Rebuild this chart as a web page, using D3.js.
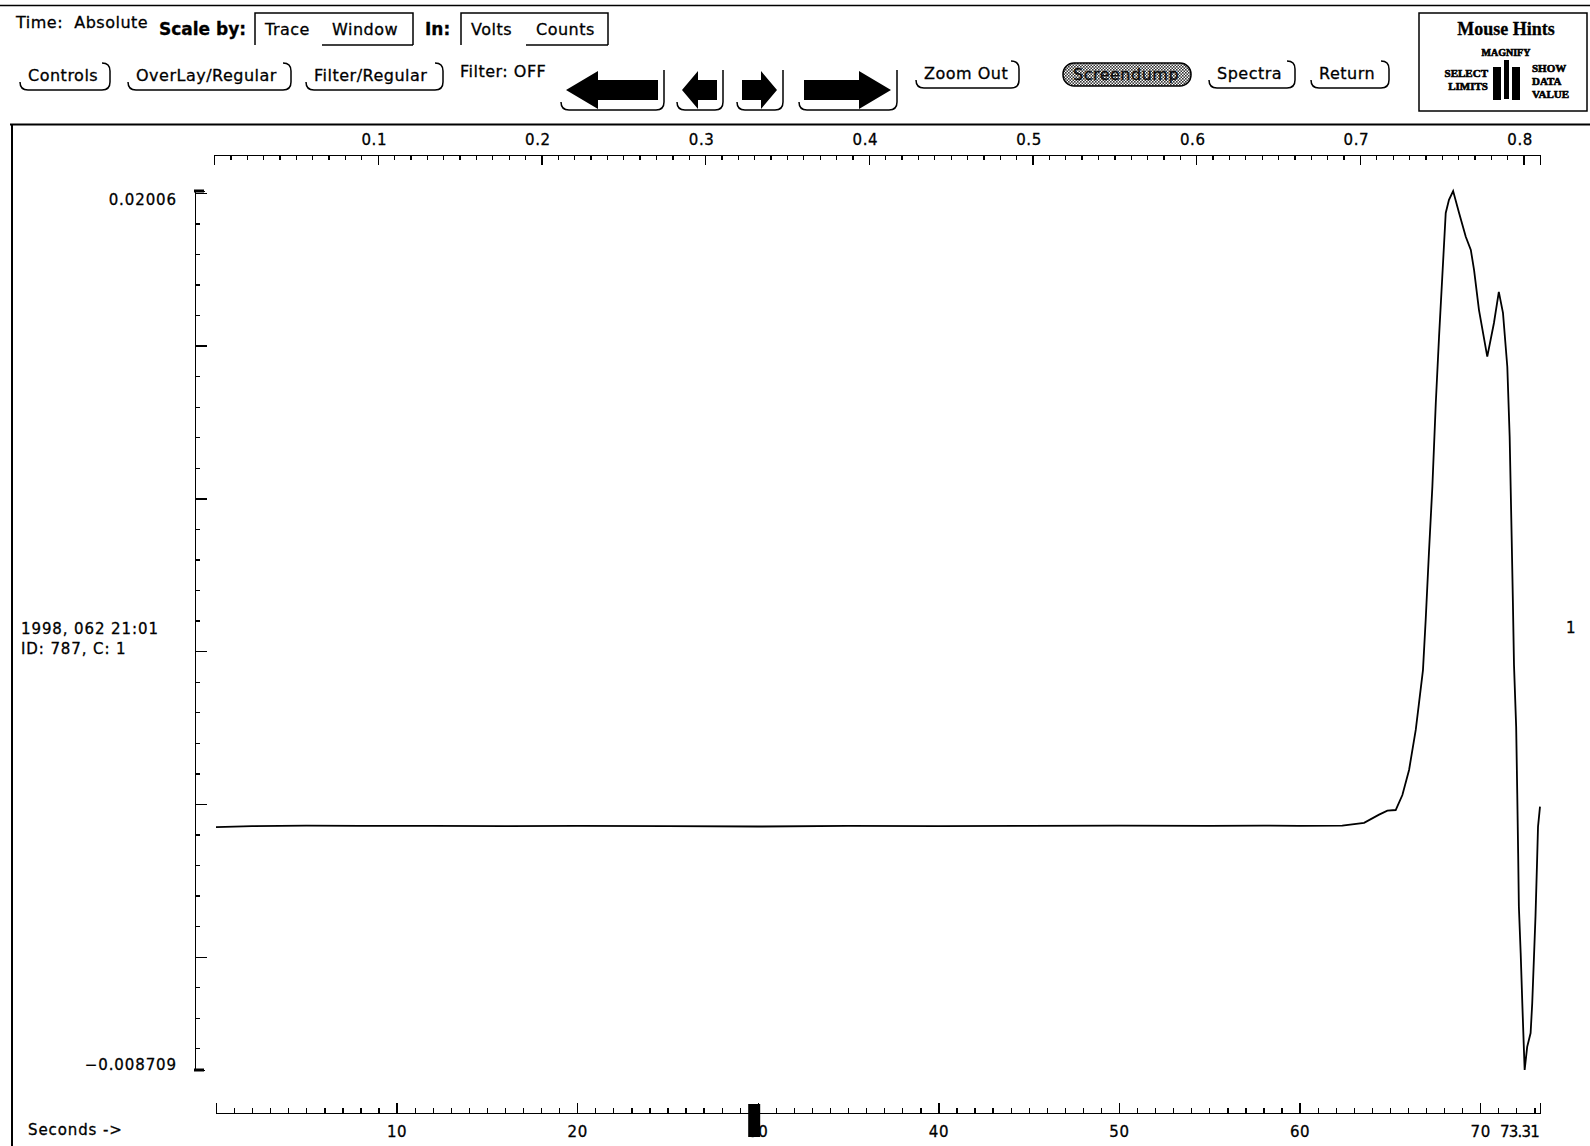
<!DOCTYPE html>
<html>
<head>
<meta charset="utf-8">
<script src="https://cdn.jsdelivr.net/npm/d3@7"></script>
<style>
  html, body { margin: 0; padding: 0; background: #fff; }
  svg { display: block; }
  text { font-family: "DejaVu Sans", sans-serif; fill: #000; stroke: #000; stroke-width: 0.3px; }
  .ui text { font-size: 16px; letter-spacing: 0.5px; }
  .axis text { font-size: 15px; letter-spacing: 0.6px; }
  .lbl { font-size: 15px; letter-spacing: 0.9px; }
  .axis path, .axis line { stroke: #000; stroke-width: 1.3; shape-rendering: crispEdges; }
  .serif { font-family: "Liberation Serif", serif; font-weight: bold; letter-spacing: 0; }
</style>
</head>
<body>
<svg id="chart" width="1590" height="1146"></svg>
<script>
// Seismogram trace, channel 1 (volts vs seconds since window start)
const timeSec = [0, 2, 5, 8, 12, 16, 20, 25, 30, 35, 40, 45, 50, 55, 58, 60, 62.36, 63.57, 64.40, 64.86, 65.32,
  65.69, 66.06, 66.43, 66.61, 66.83, 66.98, 67.16, 67.35, 67.54, 67.72, 67.90, 68.09, 68.27, 68.50,
  68.83, 69.20, 69.48, 69.66, 69.93, 70.39, 70.76, 71.03, 71.26, 71.50, 71.63, 71.74, 71.81, 71.87,
  71.99, 72.05, 72.10, 72.14, 72.24, 72.33, 72.42, 72.46, 72.60, 72.79, 72.88, 72.97, 73.06, 73.15,
  73.20, 73.31];
const volts = [-0.00076, -0.00073, -0.00071, -0.00072, -0.00072, -0.00073, -0.00072, -0.00073, -0.00074, -0.00072,
  -0.00073, -0.00072, -0.00071, -0.00072, -0.00071, -0.00072, -0.00071, -0.00062, -0.00035, -0.00022, -0.00020,
  0.00029, 0.00111, 0.00242, 0.00330, 0.00438, 0.00602, 0.00821, 0.01038, 0.01312, 0.01529, 0.01726, 0.01934, 0.01977, 0.02006,
  0.01934, 0.01856, 0.01813, 0.01747, 0.01617, 0.01464, 0.01574, 0.01676, 0.01607, 0.01431, 0.01202, 0.00875, 0.00658, 0.00455,
  0.00253, 0.00036, -0.00161, -0.00336, -0.00488, -0.00652, -0.00805, -0.008709, -0.00795, -0.00750, -0.00652, -0.00511, -0.00369, -0.00184,
  -0.00075, -0.00009];

const traceMin = -0.008709, traceMax = 0.02006;
const ampLabels = ["0.02006", "\u22120.008709"];
const timeEnd = 73.31;
const secondsLabels = [10, 20, 30, 40, 50, 60, 70];
const fractionLabels = [0.1, 0.2, 0.3, 0.4, 0.5, 0.6, 0.7, 0.8];
const fractionEnd = 0.81;
const cursorTime = 29.8;
const stamp = ["1998, 062 21:01", "ID: 787, C: 1"];
const channelLabel = "1";

const svg = d3.select("#chart");

// ---------- scales ----------
const x = d3.scaleLinear().domain([0, timeEnd]).range([216, 1540]);
const xTop = d3.scaleLinear().domain([0, fractionEnd]).range([214, 1540]);
const y = d3.scaleLinear().domain([traceMin, traceMax]).range([1070, 191]);

// ---------- frame lines ----------
svg.append("line").attr("x1", 0).attr("x2", 1590).attr("y1", 5.5).attr("y2", 5.5)
  .attr("stroke", "#000").attr("stroke-width", 1.5);
svg.append("line").attr("x1", 10).attr("x2", 1590).attr("y1", 124.5).attr("y2", 124.5)
  .attr("stroke", "#000").attr("stroke-width", 2);
svg.append("line").attr("x1", 12).attr("x2", 12).attr("y1", 124).attr("y2", 1146)
  .attr("stroke", "#000").attr("stroke-width", 2);

// ---------- control bar ----------
const ui = svg.append("g").attr("class", "ui");
ui.append("text").attr("x", 16).attr("y", 28).text("Time:\u00a0\u00a0Absolute");
ui.append("text").attr("x", 159).attr("y", 35).text("Scale by:").style("font-weight", "bold").style("font-size", "17px").style("letter-spacing", "0");
ui.append("text").attr("x", 425).attr("y", 35).text("In:").style("font-weight", "bold").style("font-size", "17px").style("letter-spacing", "0");

function choice(x0, x1, xm, labels, lx) {
  const g = ui.append("g").attr("fill", "none").attr("stroke", "#000").attr("stroke-width", 1.5);
  g.append("path").attr("d", `M${x0},45 V13 H${x1} V45`);
  g.append("path").attr("d", `M${xm},45 H${x1}`);
  labels.forEach((t, i) => ui.append("text").attr("x", lx[i]).attr("y", 35).text(t));
}
choice(255, 413, 322, ["Trace", "Window"], [265, 332]);
choice(461, 608, 526, ["Volts", "Counts"], [471, 536]);

// OPEN LOOK style menu buttons
function button(x0, x1, label, top, bottom) {
  const r = 8;
  ui.append("path")
    .attr("d", `M${x0},${bottom - r} Q${x0},${bottom} ${x0 + r},${bottom} H${x1 - r} Q${x1},${bottom} ${x1},${bottom - r} V${top + r} Q${x1},${top} ${x1 - r},${top}`)
    .attr("fill", "none").attr("stroke", "#000").attr("stroke-width", 1.5);
  ui.append("text").attr("x", x0 + 8).attr("y", (top + bottom) / 2 + 4).text(label);
}
button(20, 110, "Controls", 63, 90);
button(128, 291, "OverLay/Regular", 63, 90);
button(306, 443, "Filter/Regular", 63, 90);
button(916, 1019, "Zoom Out", 61, 88);
button(1209, 1295, "Spectra", 61, 88);
button(1311, 1389, "Return", 61, 88);
ui.append("text").attr("x", 460).attr("y", 77).text("Filter: OFF");

// stippled (busy) button
const defs = svg.append("defs");
const pat = defs.append("pattern").attr("id", "stipple").attr("width", 3).attr("height", 3)
  .attr("patternUnits", "userSpaceOnUse");
pat.append("rect").attr("width", 3).attr("height", 3).attr("fill", "#fff");
pat.append("rect").attr("width", 1.6).attr("height", 1.6).attr("fill", "#333");
pat.append("rect").attr("x", 1.5).attr("y", 1.5).attr("width", 1.6).attr("height", 1.6).attr("fill", "#333");
ui.append("rect").attr("x", 1063).attr("y", 63).attr("width", 128).attr("height", 23).attr("rx", 11)
  .attr("fill", "url(#stipple)").attr("stroke", "#000").attr("stroke-width", 1.5);
ui.append("text").attr("x", 1073).attr("y", 80).text("Screendump").style("fill", "#111");

// scroll arrows
function arrowButton(x0, x1, dir, big) {
  const top = 70, bottom = 110, r = 8;
  ui.append("path")
    .attr("d", `M${x0},${bottom - r} Q${x0},${bottom} ${x0 + r},${bottom} H${x1 - r} Q${x1},${bottom} ${x1},${bottom - r} V${top}`)
    .attr("fill", "none").attr("stroke", "#000").attr("stroke-width", 1.5);
  const a0 = x0 + 5, a1 = x1 - 6, cy = 90, hh = 19, sh = 10;
  const head = big ? 32 : 16;
  let d;
  if (dir < 0) {
    d = `M${a0},${cy} L${a0 + head},${cy - hh} V${cy - sh} H${a1} V${cy + sh} H${a0 + head} V${cy + hh} Z`;
  } else {
    d = `M${a1},${cy} L${a1 - head},${cy - hh} V${cy - sh} H${a0} V${cy + sh} H${a1 - head} V${cy + hh} Z`;
  }
  ui.append("path").attr("d", d).attr("fill", "#000");
}
arrowButton(561, 664, -1, true);
arrowButton(677, 723, -1, false);
arrowButton(737, 783, 1, false);
arrowButton(799, 897, 1, true);

// mouse hints panel
const mh = svg.append("g");
mh.append("rect").attr("x", 1419).attr("y", 13).attr("width", 168).attr("height", 98)
  .attr("fill", "none").attr("stroke", "#000").attr("stroke-width", 1.5);
mh.append("text").attr("class", "serif").attr("x", 1506).attr("y", 35).attr("text-anchor", "middle")
  .style("font-size", "18px").text("Mouse Hints");
const tiny = (t, xx, yy, anchor, size) => mh.append("text").attr("class", "serif").attr("x", xx).attr("y", yy)
  .attr("text-anchor", anchor).style("font-size", size + "px").style("stroke-width", "0.6px").text(t);
tiny("MAGNIFY", 1506, 56, "middle", 10);
tiny("SELECT", 1488, 77, "end", 11);
tiny("LIMITS", 1488, 90, "end", 11);
tiny("SHOW", 1532, 72, "start", 11);
tiny("DATA", 1532, 85, "start", 11);
tiny("VALUE", 1532, 98, "start", 11);
mh.append("rect").attr("x", 1493).attr("y", 67).attr("width", 8).attr("height", 33).attr("fill", "#000");
mh.append("rect").attr("x", 1504).attr("y", 60).attr("width", 5).attr("height", 39).attr("fill", "#000");
mh.append("rect").attr("x", 1512).attr("y", 67).attr("width", 8).attr("height", 33).attr("fill", "#000");

// ---------- top axis (fraction) ----------
const topY = 155;
function ticksBetween(a, b, step) {
  const out = [];
  for (let i = Math.round(a / step); i * step <= b + 1e-9; i++) out.push(+(i * step).toFixed(6));
  return out;
}
const topMinor = ticksBetween(0, fractionEnd, 0.01);
svg.append("g").attr("class", "axis").attr("transform", `translate(0,${topY})`)
  .call(d3.axisTop(xTop).tickValues(topMinor).tickSizeInner(-5).tickSizeOuter(-10).tickFormat(""));
svg.append("g").attr("class", "axis").attr("transform", `translate(0,${topY})`)
  .call(d3.axisTop(xTop).tickValues(ticksBetween(0.05, fractionEnd, 0.1)).tickSize(-7).tickFormat(""))
  .call(g => g.select(".domain").remove());
svg.append("g").attr("class", "axis").attr("transform", `translate(0,${topY})`)
  .call(d3.axisTop(xTop).tickValues(fractionLabels).tickSize(-10).tickPadding(10).tickFormat(d3.format(".1f")))
  .call(g => g.select(".domain").remove())
  .call(g => g.selectAll("text").attr("dx", -4));

// ---------- bottom axis (seconds) ----------
const botY = 1113;
const botMinor = ticksBetween(0, timeEnd, 1);
svg.append("g").attr("class", "axis").attr("transform", `translate(0,${botY})`)
  .call(d3.axisBottom(x).tickValues(botMinor).tickSizeInner(-5).tickSizeOuter(-10).tickFormat(""))
  .call(g => g.select(".domain").attr("stroke-width", 2));
svg.append("g").attr("class", "axis").attr("transform", `translate(0,${botY})`)
  .call(d3.axisBottom(x).tickValues(ticksBetween(5, timeEnd, 10)).tickSize(-7).tickFormat(""))
  .call(g => g.select(".domain").remove());
svg.append("g").attr("class", "axis").attr("transform", `translate(0,${botY})`)
  .call(d3.axisBottom(x).tickValues(secondsLabels).tickSize(-10).tickPadding(13).tickFormat(d3.format("d")))
  .call(g => g.select(".domain").remove());
svg.append("text").attr("x", x(timeEnd) - 1).attr("y", botY + 24).attr("text-anchor", "end")
  .style("font-size", "15px").style("letter-spacing", "-0.8px").text(d3.format(".2f")(timeEnd));
svg.append("text").attr("class", "lbl").attr("x", 28).attr("y", 1135).text("Seconds ->");
// time cursor
svg.append("rect").attr("x", x(cursorTime) - 6).attr("y", botY - 9).attr("width", 12).attr("height", 33).attr("fill", "#000");

// ---------- left amplitude axis ----------
const axX = 195;
const yMinor = d3.range(Math.ceil(traceMin / 0.001), Math.floor(traceMax / 0.001) + 1).map(i => +(i * 0.001).toFixed(4));
svg.append("g").attr("class", "axis").attr("transform", `translate(${axX},0)`)
  .call(d3.axisRight(y).tickValues(yMinor).tickSizeInner(5).tickSizeOuter(10).tickFormat(""))
  .call(g => g.select(".domain").attr("stroke-width", 2));
svg.append("g").attr("class", "axis").attr("transform", `translate(${axX},0)`)
  .call(d3.axisRight(y).tickValues(yMinor.filter(v => Math.abs(Math.round(v / 0.005) * 0.005 - v) < 1e-7)).tickSize(12).tickFormat(""))
  .call(g => g.select(".domain").remove());
// heavier bracket ends
[traceMax, traceMin].forEach(v => svg.append("line").attr("x1", axX - 1).attr("x2", axX + 9)
  .attr("y1", y(v)).attr("y2", y(v)).attr("stroke", "#000").attr("stroke-width", 3));
svg.append("text").attr("class", "lbl").attr("x", 177).attr("y", y(traceMax) + 14).attr("text-anchor", "end").text(ampLabels[0]);
svg.append("text").attr("class", "lbl").attr("x", 177).attr("y", y(traceMin)).attr("text-anchor", "end").text(ampLabels[1]);

// station / channel annotations
svg.append("text").attr("class", "lbl").attr("x", 21).attr("y", 634).text(stamp[0]);
svg.append("text").attr("class", "lbl").attr("x", 21).attr("y", 654).text(stamp[1]);
svg.append("text").attr("class", "lbl").attr("x", 1566).attr("y", 633).text(channelLabel);

// ---------- trace ----------
const trace = timeSec.map((t, i) => [t, volts[i]]);
svg.append("path").datum(trace)
  .attr("d", d3.line().x(d => x(d[0])).y(d => y(d[1])))
  .attr("fill", "none").attr("stroke", "#000").attr("stroke-width", 1.8).attr("stroke-linejoin", "miter");
</script>
</body>
</html>
